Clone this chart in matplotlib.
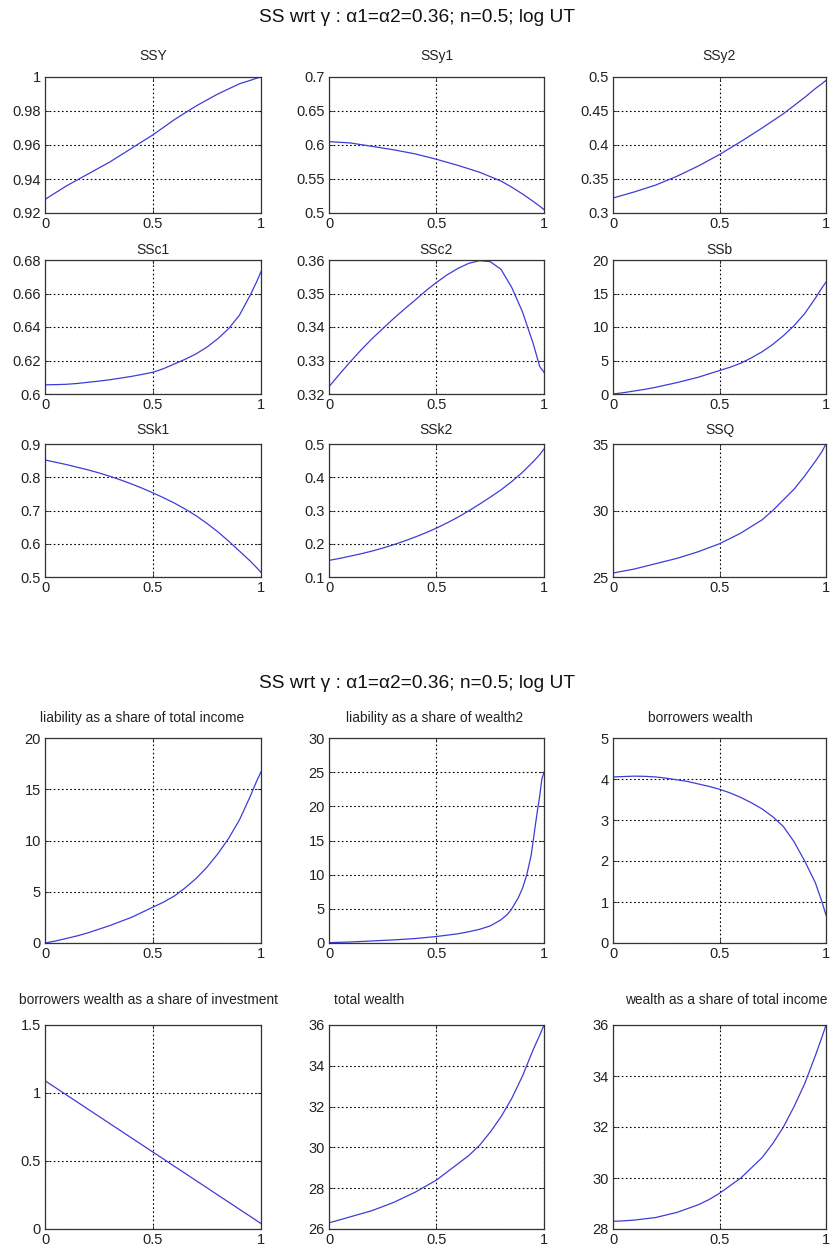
import numpy as np
import matplotlib
matplotlib.use("Agg")
import matplotlib.pyplot as plt
from matplotlib.ticker import FormatStrFormatter

plt.rcParams["font.family"] = ["Liberation Sans", "DejaVu Sans"]

# gamma grid shared by most of the steady state curves
gam = [0.0, 0.05, 0.1, 0.15, 0.2, 0.25, 0.3, 0.35, 0.4, 0.45, 0.5,
       0.55, 0.6, 0.65, 0.7, 0.75, 0.8, 0.85, 0.9, 0.95, 0.98, 1.0]

ssY = [0.928, 0.932, 0.936, 0.9395, 0.943, 0.9465, 0.950, 0.954, 0.958, 0.962, 0.966,
       0.9705, 0.975, 0.979, 0.983, 0.9865, 0.990, 0.993, 0.996, 0.998, 0.9993, 1.000]
ssy1 = [0.605, 0.604, 0.603, 0.6005, 0.598, 0.5955, 0.593, 0.590, 0.587, 0.583, 0.579,
        0.5745, 0.570, 0.565, 0.560, 0.5535, 0.547, 0.538, 0.528, 0.517, 0.510, 0.505]
ssy2 = [0.322, 0.3265, 0.331, 0.336, 0.341, 0.3475, 0.354, 0.3615, 0.369, 0.3775, 0.386,
        0.3955, 0.405, 0.415, 0.425, 0.4355, 0.446, 0.458, 0.470, 0.483, 0.490, 0.495]
ssc1 = [0.6055, 0.6056, 0.6058, 0.6063, 0.607, 0.6077, 0.6085, 0.6095, 0.6105, 0.6117, 0.613,
        0.6152, 0.618, 0.6208, 0.624, 0.628, 0.633, 0.639, 0.647, 0.659, 0.667, 0.673]
ssc2 = [0.3222, 0.326, 0.3297, 0.3332, 0.3365, 0.3395, 0.3425, 0.3453, 0.348, 0.3508, 0.3533,
        0.3556, 0.3575, 0.3590, 0.3598, 0.3595, 0.3572, 0.3518, 0.3445, 0.3350, 0.3282, 0.3265]
ssb = [0.0, 0.2, 0.45, 0.7, 1.0, 1.35, 1.7, 2.1, 2.5, 3.0, 3.5,
       4.0, 4.6, 5.4, 6.3, 7.4, 8.7, 10.2, 12.0, 14.3, 15.8, 16.7]
ssk1 = [0.852, 0.845, 0.838, 0.830, 0.822, 0.813, 0.803, 0.792, 0.780, 0.767, 0.753,
        0.738, 0.722, 0.704, 0.684, 0.661, 0.636, 0.608, 0.578, 0.548, 0.528, 0.514]
ssk2 = [0.150, 0.156, 0.163, 0.170, 0.178, 0.187, 0.197, 0.208, 0.220, 0.233, 0.247,
        0.263, 0.280, 0.299, 0.319, 0.340, 0.362, 0.387, 0.415, 0.447, 0.468, 0.485]
ssQ = [25.3, 25.45, 25.6, 25.8, 26.0, 26.2, 26.4, 26.65, 26.9, 27.2, 27.5,
       27.9, 28.3, 28.8, 29.3, 30.0, 30.8, 31.6, 32.6, 33.7, 34.4, 35.0]

liab_income = [0.0, 0.2, 0.45, 0.7, 1.0, 1.35, 1.7, 2.1, 2.5, 3.0, 3.5,
               4.0, 4.6, 5.4, 6.3, 7.4, 8.7, 10.2, 12.0, 14.3, 15.8, 16.7]
gam_w2 = [0.0, 0.1, 0.2, 0.3, 0.4, 0.5, 0.55, 0.6, 0.65, 0.7, 0.75, 0.8, 0.83,
          0.85, 0.88, 0.9, 0.92, 0.94, 0.95, 0.96, 0.97, 0.98, 0.99, 1.0]
liab_wealth2 = [0.05, 0.15, 0.3, 0.45, 0.65, 0.95, 1.15, 1.35, 1.65, 2.0, 2.5, 3.4, 4.2,
                5.0, 6.6, 8.0, 10.0, 12.8, 15.0, 17.3, 19.5, 21.5, 24.0, 25.0]
borr_wealth = [4.05, 4.06, 4.07, 4.065, 4.05, 4.02, 3.98, 3.94, 3.88, 3.82, 3.75,
               3.66, 3.55, 3.42, 3.27, 3.08, 2.84, 2.47, 2.00, 1.47, 1.02, 0.68]
borr_invest = [1.09, 1.038, 0.985, 0.933, 0.88, 0.828, 0.775, 0.723, 0.67, 0.618, 0.565,
               0.513, 0.46, 0.408, 0.355, 0.303, 0.25, 0.198, 0.145, 0.093, 0.061, 0.04]
total_wealth = [26.3, 26.45, 26.6, 26.75, 26.9, 27.1, 27.3, 27.55, 27.8, 28.1, 28.4,
                28.8, 29.2, 29.6, 30.1, 30.75, 31.5, 32.4, 33.5, 34.8, 35.5, 36.0]
wealth_income = [28.3, 28.32, 28.35, 28.4, 28.45, 28.55, 28.65, 28.8, 28.95, 29.15, 29.4,
                 29.7, 30.0, 30.4, 30.8, 31.35, 32.0, 32.8, 33.7, 34.8, 35.5, 36.0]

title = "SS wrt \u03b3 : \u03b11=\u03b12=0.36; n=0.5; log UT"

W, H = 835, 1252
fig = plt.figure(figsize=(W / 100, H / 100), dpi=100)

cols = [(45, 261), (329, 544), (613, 826)]
rows_top = [(77, 213), (260, 394), (444, 577)]
rows_bot = [(738, 943), (1025, 1229)]
title_pad_top = [12, 4.5, 7]
title_off_bot = [0.063, 0.088]

line_c = (0.24, 0.24, 0.84)
txt_c = "#222222"


def make_ax(col, row):
    x0, x1 = col
    y0, y1 = row
    ax = fig.add_axes([x0 / W, 1 - y1 / H, (x1 - x0) / W, (y1 - y0) / H])
    return ax


def style(ax, ylim, yticks, fs=10.5):
    ax.set_xlim(0, 1)
    ax.set_ylim(*ylim)
    ax.set_xticks([0, 0.5, 1])
    ax.set_yticks(yticks)
    ax.xaxis.set_major_formatter(FormatStrFormatter("%g"))
    ax.yaxis.set_major_formatter(FormatStrFormatter("%g"))
    ax.grid(True, color="black", linestyle=(0, (1.5, 2.2)), linewidth=0.8)
    ax.tick_params(direction="in", length=3, width=0.6, labelsize=fs,
                   colors=txt_c, top=True, right=True, pad=3)
    for s in ax.spines.values():
        s.set_linewidth(0.9)
        s.set_color("#333333")


top_panels = [
    ("SSY", gam, ssY, (0.92, 1.0), [0.92, 0.94, 0.96, 0.98, 1.0]),
    ("SSy1", gam, ssy1, (0.5, 0.7), [0.5, 0.55, 0.6, 0.65, 0.7]),
    ("SSy2", gam, ssy2, (0.3, 0.5), [0.3, 0.35, 0.4, 0.45, 0.5]),
    ("SSc1", gam, ssc1, (0.6, 0.68), [0.6, 0.62, 0.64, 0.66, 0.68]),
    ("SSc2", gam, ssc2, (0.32, 0.36), [0.32, 0.33, 0.34, 0.35, 0.36]),
    ("SSb", gam, ssb, (0, 20), [0, 5, 10, 15, 20]),
    ("SSk1", gam, ssk1, (0.5, 0.9), [0.5, 0.6, 0.7, 0.8, 0.9]),
    ("SSk2", gam, ssk2, (0.1, 0.5), [0.1, 0.2, 0.3, 0.4, 0.5]),
    ("SSQ", gam, ssQ, (25, 35), [25, 30, 35]),
]

for i, (name, xs, ys, ylim, yt) in enumerate(top_panels):
    ax = make_ax(cols[i % 3], rows_top[i // 3])
    ax.plot(xs, ys, color=line_c, linewidth=0.9)
    style(ax, ylim, yt)
    ax.set_title(name, fontsize=10, color=txt_c, pad=title_pad_top[i // 3])

# second block: wealth and liability ratios, titles placed by hand
bot_panels = [
    ("liability as a share of total income", 0.45, "center", gam, liab_income, (0, 20), [0, 5, 10, 15, 20]),
    ("liability as a share of wealth2", 0.49, "center", gam_w2, liab_wealth2, (0, 30), [0, 5, 10, 15, 20, 25, 30]),
    ("borrowers wealth", 0.41, "center", gam, borr_wealth, (0, 5), [0, 1, 2, 3, 4, 5]),
    ("borrowers wealth as a share of investment", 0.48, "center", gam, borr_invest, (0, 1.5), [0, 0.5, 1, 1.5]),
    ("total wealth", 0.025, "left", gam, total_wealth, (26, 36), [26, 28, 30, 32, 34, 36]),
    ("wealth as a share of total income", 0.53, "center", gam, wealth_income, (28, 36), [28, 30, 32, 34, 36]),
]

for i, (name, tx, ha, xs, ys, ylim, yt) in enumerate(bot_panels):
    ax = make_ax(cols[i % 3], rows_bot[i // 3])
    ax.plot(xs, ys, color=line_c, linewidth=0.9)
    style(ax, ylim, yt)
    ax.text(tx, 1 + title_off_bot[i // 3], name, transform=ax.transAxes, ha=ha, va="bottom",
            fontsize=9.9, color=txt_c)

fig.text(0.5, 1 - 18 / H, title, ha="center", va="center", fontsize=13.8, color="#111111")
fig.text(0.5, 1 - 683 / H, title, ha="center", va="center", fontsize=13.8, color="#111111")

fig.savefig("out.png", dpi=100, facecolor="white")
